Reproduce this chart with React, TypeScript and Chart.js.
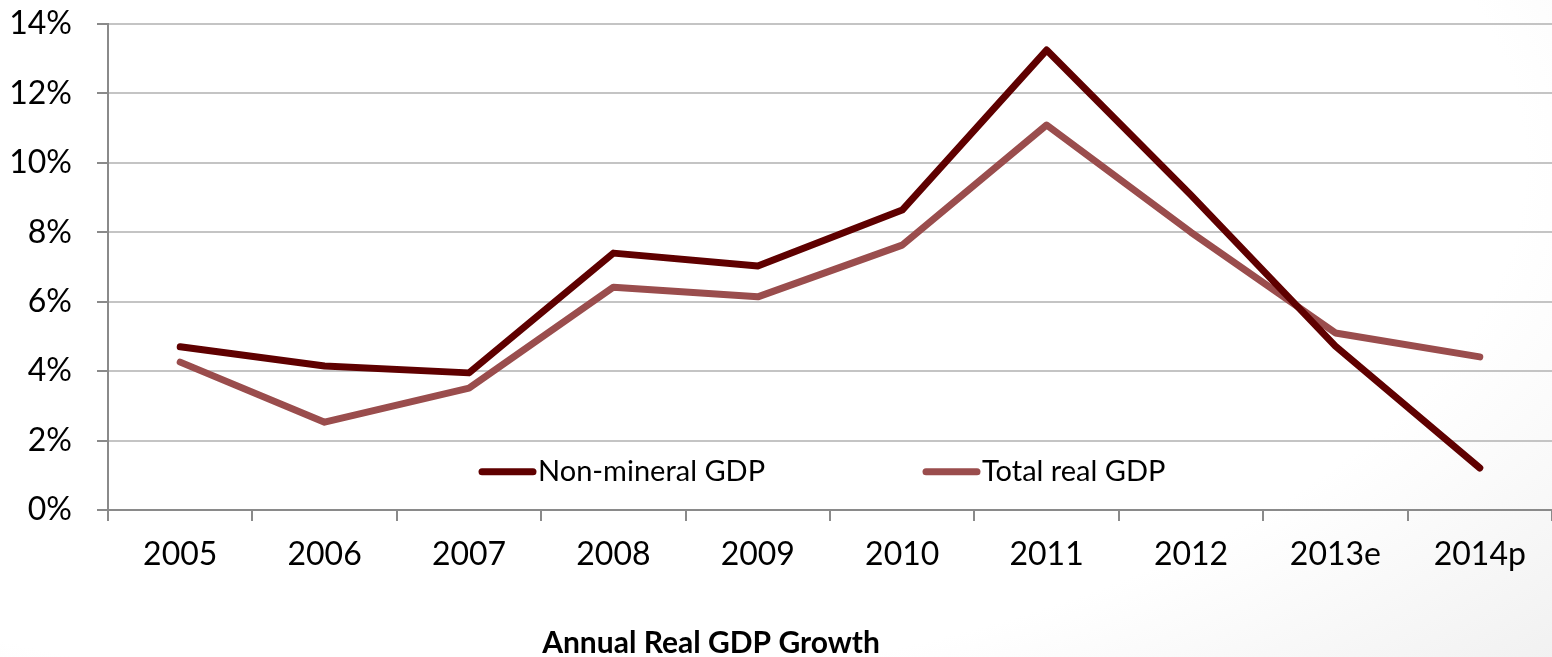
import React, { useEffect, useRef } from "react";
import { Chart, registerables } from "chart.js";

Chart.register(...registerables);

const categories = ["2005", "2006", "2007", "2008", "2009", "2010", "2011", "2012", "2013e", "2014p"];
const nonMineralGDP = [4.7, 4.15, 3.95, 7.4, 7.03, 8.64, 13.25, 9.07, 4.72, 1.21];
const totalRealGDP = [4.26, 2.53, 3.51, 6.42, 6.14, 7.63, 11.09, 8.0, 5.1, 4.41];
const seriesNames = ["Non-mineral GDP", "Total real GDP"];
const chartTitle = "Annual Real GDP Growth";
const yTicks = [0, 2, 4, 6, 8, 10, 12, 14];

const FONT = "Lato, 'Liberation Sans', sans-serif";

const legendPlugin = {
  id: "insideLegend",
  afterDraw(chart: any) {
    const ctx = chart.ctx;
    const positions = [478, 922];
    const y = chart.scales.y.getPixelForValue(1.1);
    ctx.save();
    chart.data.datasets.forEach((ds: any, i: number) => {
      const x = positions[i];
      ctx.strokeStyle = ds.borderColor;
      ctx.lineWidth = 7;
      ctx.lineCap = "round";
      ctx.beginPath();
      ctx.moveTo(x + 4, y);
      ctx.lineTo(x + 55, y);
      ctx.stroke();
      ctx.fillStyle = "#000";
      ctx.font = `29px ${FONT}`;
      ctx.textBaseline = "middle";
      ctx.textAlign = "left";
      ctx.fillText(ds.label, x + 60, y);
    });
    ctx.font = `bold 30px ${FONT}`;
    ctx.textAlign = "center";
    ctx.textBaseline = "middle";
    ctx.fillStyle = "#000";
    ctx.fillText(chartTitle, 711, 643);
    ctx.restore();
  },
};

export default function App() {
  const ref = useRef<HTMLCanvasElement>(null);
  useEffect(() => {
    if (!ref.current) return;
    const chart = new Chart(ref.current, {
      type: "line",
      data: {
        labels: categories,
        datasets: [
          {
            label: seriesNames[0],
            data: nonMineralGDP,
            borderColor: "#5f0000",
            backgroundColor: "#5f0000",
            borderWidth: 7,
            pointRadius: 0,
            borderCapStyle: "round",
            borderJoinStyle: "round",
            tension: 0,
          },
          {
            label: seriesNames[1],
            data: totalRealGDP,
            borderColor: "#9a4d4d",
            backgroundColor: "#9a4d4d",
            borderWidth: 7,
            pointRadius: 0,
            borderCapStyle: "round",
            borderJoinStyle: "round",
            tension: 0,
          },
        ],
      },
      options: {
        animation: false,
        responsive: true,
        maintainAspectRatio: false,
        layout: { padding: { top: 24, right: 0, left: 0, bottom: 0 } },
        plugins: {
          legend: { display: false },
          title: { display: false },
          tooltip: { enabled: false },
        },
        scales: {
          x: {
            offset: true,
            grid: {
              offset: true,
              drawOnChartArea: false,
              drawTicks: true,
              tickLength: 11,
              tickColor: "#8a8a8a",
              lineWidth: 2,
            },
            border: { color: "#8a8a8a", width: 2 },
            ticks: {
              color: "#000",
              font: { family: FONT, size: 32 },
              padding: 14,
              maxRotation: 0,
              autoSkip: false,
            },
            afterFit(scale: any) {
              scale.height = 147;
              scale.paddingLeft = 0;
              scale.paddingRight = 0;
            },
          },
          y: {
            min: 0,
            max: 14,
            afterBuildTicks(scale: any) {
              scale.ticks = yTicks.map((v) => ({ value: v }));
            },
            grid: {
              color: "#c4c4c4",
              lineWidth: 2,
              tickLength: 11,
              tickColor: "#8a8a8a",
            },
            border: { color: "#8a8a8a", width: 2 },
            ticks: {
              color: "#000",
              font: { family: FONT, size: 32 },
              padding: 25,
              callback: (v: any) => `${v}%`,
            },
            afterFit(scale: any) {
              scale.width = 108;
              scale.paddingTop = 0;
              scale.paddingBottom = 0;
            },
          },
        },
      },
      plugins: [legendPlugin],
    });
    return () => chart.destroy();
  }, []);

  return (
    <div
      style={{
        position: "absolute",
        left: 0,
        top: 0,
        width: 1552,
        height: 657,
        background:
          "radial-gradient(ellipse 110% 130% at 30% 25%, #ffffff 62%, #e9e9e9 100%)",
      }}
    >
      <canvas ref={ref} />
    </div>
  );
}
